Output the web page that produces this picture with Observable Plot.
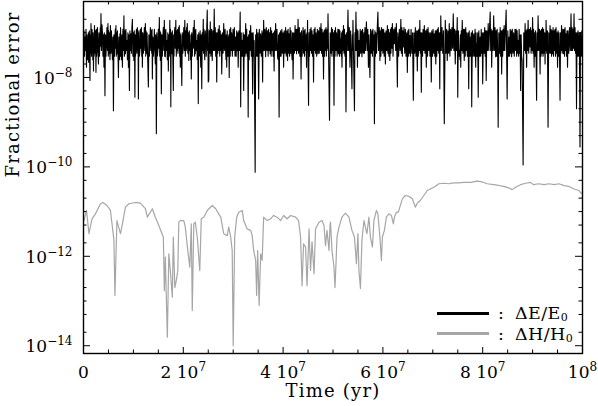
<!DOCTYPE html>
<html><head><meta charset="utf-8">
<script src="https://cdn.jsdelivr.net/npm/d3@7"></script>
<script src="https://cdn.jsdelivr.net/npm/@observablehq/plot@0.6"></script>
<style>
body{margin:0;background:#fff;}
#wrap{position:relative;width:598px;height:406px;font-family:"DejaVu Serif",serif;color:#000;}
#wrap svg{display:block;}
.sw{position:absolute;width:52px;height:3px;}
.lt{position:absolute;font-size:17.5px;line-height:16px;white-space:nowrap;letter-spacing:0.4px;}
.lt sub{font-size:11px;line-height:10px;vertical-align:baseline;position:relative;top:2px;}
</style></head><body><div id="wrap"></div>
<script>
// time in Myr, fractional energy error
const energyError = [
[0,5.7e-8],[0.1,1.1e-7],[0.2,3e-8],[0.3,8e-8],[0.4,4e-8],[0.5,1.2e-7],[0.6,1.7e-8],[0.7,9e-8],[0.8,2.5e-8],[0.9,4.8e-8],[0.97,1e-7],[1.03,2.2e-8],[1.1,2.9e-8],[1.17,1.1e-7],[1.23,3e-8],[1.3,8.6e-9],[1.37,9e-8],[1.43,3.5e-8],[1.5,1.6e-7],[1.6,3e-8],[1.7,1.2e-7],[1.8,6.7e-8],[1.87,2.5e-8],[1.93,1e-7],[2.0,1.4e-8],[2.07,8e-8],[2.13,3e-8],[2.2,1.45e-7],[2.3,3.5e-8],[2.4,1.1e-7],[2.5,1.3e-8],[2.57,1.2e-7],[2.63,3e-8],[2.7,4e-8],[2.8,1.3e-7],[2.9,4e-8],[3.0,2e-8],[3.1,1e-7],[3.2,3e-8],[3.3,6.7e-8],[3.37,1.3e-7],[3.43,5e-8],[3.5,2.7e-7],[3.6,4e-8],[3.7,1.5e-7],[3.8,1e-7],[3.9,3e-8],[4.0,9e-8],[4.1,1.7e-8],[4.17,1e-7],[4.23,4e-8],[4.3,3.9e-9],[4.4,9e-8],[4.5,3e-8],[4.6,6.7e-8],[4.7,1.3e-7],[4.8,4e-8],[4.9,1.6e-7],[4.97,3e-8],[5.03,1.1e-7],[5.1,3.4e-8],[5.2,1e-7],[5.3,2.5e-8],[5.4,1.45e-7],[5.5,3.5e-8],[5.6,1.1e-7],[5.7,4.8e-8],[5.8,2.5e-8],[5.9,8e-8],[6.0,1.8e-9],[6.1,9e-8],[6.2,3e-8],[6.3,8e-8],[6.37,1.2e-7],[6.43,4.5e-8],[6.5,1.45e-7],[6.57,3e-8],[6.63,1e-7],[6.7,3.4e-8],[6.8,1.1e-7],[6.9,4e-8],[7.0,1e-8],[7.1,8e-8],[7.2,2.5e-8],[7.3,9.5e-8],[7.37,3e-8],[7.43,1.3e-7],[7.5,4.8e-8],[7.6,2.5e-8],[7.7,9e-8],[7.8,1.7e-8],[7.9,1.2e-7],[8.0,4e-8],[8.1,2.4e-7],[8.2,3e-8],[8.3,1.1e-7],[8.4,3.4e-8],[8.5,1.2e-7],[8.6,4e-8],[8.7,6.7e-8],[8.8,2.5e-8],[8.9,1e-7],[9.0,1.7e-8],[9.07,9e-8],[9.13,3e-8],[9.2,5.1e-9],[9.3,1.1e-7],[9.4,4e-8],[9.5,9.5e-8],[9.6,3.5e-8],[9.7,1.3e-7],[9.8,2e-7],[9.9,3e-8],[10.0,1e-7],[10.1,2.4e-8],[10.17,1.1e-7],[10.23,4e-8],[10.3,3.6e-9],[10.37,9e-8],[10.43,3e-8],[10.5,5.7e-8],[10.6,1.2e-7],[10.7,3.5e-8],[10.8,1.3e-7],[10.87,4e-8],[10.93,1e-7],[11.0,3.3e-9],[11.1,1.1e-7],[11.2,3e-8],[11.3,4e-8],[11.4,1.2e-7],[11.5,4.5e-8],[11.6,1.3e-7],[11.67,3e-8],[11.73,1e-7],[11.8,1.7e-8],[11.9,1e-7],[12.0,3.5e-8],[12.1,6.7e-8],[12.2,1.3e-7],[12.3,4e-8],[12.4,1.6e-7],[12.47,3e-8],[12.53,1.1e-7],[12.6,3.4e-8],[12.73,1e-7],[12.87,2.5e-8],[13.0,6.1e-9],[13.1,9e-8],[13.2,3e-8],[13.3,6.7e-8],[13.4,1.3e-7],[13.5,4e-8],[13.6,1.1e-7],[13.67,3.5e-8],[13.73,1.2e-7],[13.8,9.3e-9],[13.9,8e-8],[14.0,3e-8],[14.1,4.8e-8],[14.2,1.2e-7],[14.3,4e-8],[14.4,2e-8],[14.47,9e-8],[14.53,3e-8],[14.6,5.5e-10],[14.7,1e-7],[14.8,3e-8],[14.9,4e-8],[15.0,1.2e-7],[15.1,4.5e-8],[15.2,2.2e-7],[15.27,3e-8],[15.33,1.1e-7],[15.4,2.4e-8],[15.47,1e-7],[15.53,3.5e-8],[15.6,4.3e-9],[15.7,9e-8],[15.8,3e-8],[15.9,8e-8],[16.0,1.3e-7],[16.1,4e-8],[16.2,1.9e-7],[16.27,3e-8],[16.33,1.1e-7],[16.4,2.9e-8],[16.5,1.2e-7],[16.6,4e-8],[16.7,6.7e-8],[16.8,2.5e-8],[16.9,1e-7],[17.0,1.4e-8],[17.1,9e-8],[17.2,3e-8],[17.3,1.9e-7],[17.37,3.5e-8],[17.43,1.2e-7],[17.5,2.2e-9],[17.57,1e-7],[17.63,4e-8],[17.7,3.4e-8],[17.8,1.1e-7],[17.9,3e-8],[18.0,5.1e-9],[18.07,9e-8],[18.13,3e-8],[18.2,8e-8],[18.3,1.3e-7],[18.4,4.5e-8],[18.5,1.9e-7],[18.6,3e-8],[18.7,1.1e-7],[18.8,4e-8],[18.87,1.2e-7],[18.93,3.5e-8],[19.0,6.7e-8],[19.07,1.3e-7],[19.13,4.5e-8],[19.2,1.45e-7],[19.27,3e-8],[19.33,1e-7],[19.4,1.7e-8],[19.5,9e-8],[19.6,3e-8],[19.7,6.6e-9],[19.8,1e-7],[19.9,3.5e-8],[20.0,6.7e-8],[20.1,1.3e-7],[20.2,4e-8],[20.3,1.9e-7],[20.4,3e-8],[20.5,1.1e-7],[20.6,4e-8],[20.67,1.3e-7],[20.73,4.5e-8],[20.8,1.6e-7],[20.9,3.5e-8],[21.0,1e-7],[21.1,2.4e-8],[21.2,1.1e-7],[21.3,4e-8],[21.4,5.7e-8],[21.47,2.5e-8],[21.53,9e-8],[21.6,9.3e-9],[21.7,1e-7],[21.8,3e-8],[21.9,6.7e-8],[22.0,1.3e-7],[22.1,4.5e-8],[22.2,1.9e-7],[22.27,3e-8],[22.33,1.1e-7],[22.4,3.4e-8],[22.5,1.2e-7],[22.6,4e-8],[22.7,6.7e-8],[22.8,2.5e-8],[22.9,9e-8],[23.0,2.6e-9],[23.1,1e-7],[23.2,3e-8],[23.3,4e-8],[23.37,1.1e-7],[23.43,3.5e-8],[23.5,1.7e-8],[23.57,9e-8],[23.63,3e-8],[23.7,5.6e-9],[23.8,1e-7],[23.9,4e-8],[24.0,2e-7],[24.07,3.5e-8],[24.13,1.2e-7],[24.2,4.8e-8],[24.3,2.5e-8],[24.4,1.1e-7],[24.5,8e-8],[24.6,3e-8],[24.7,1.3e-7],[24.8,3.2e-7],[24.87,4e-8],[24.93,1.2e-7],[25.0,7.9e-9],
[25.1,8.6e-9],[25.2,1.1e-7],[25.3,3.5e-8],[25.4,1.75e-7],[25.53,3e-8],[25.67,1.2e-7],[25.8,2.4e-8],[25.93,1.1e-7],[26.07,4e-8],[26.2,3.4e-7],[26.3,4e-8],[26.4,1.3e-7],[26.5,3e-8],[26.6,1e-7],[26.7,7.9e-9],[26.8,1e-7],[26.9,3.5e-8],[27.0,1.2e-7],[27.1,4e-8],[27.2,1.45e-7],[27.3,3e-8],[27.4,1.1e-7],[27.5,4e-8],[27.6,9e-8],[27.7,1.2e-8],[27.83,1e-7],[27.97,3.5e-8],[28.1,1.6e-7],[28.23,4e-8],[28.37,1.2e-7],[28.5,3.4e-8],[28.57,2.5e-8],[28.63,9e-8],[28.7,1.7e-8],[28.8,1.1e-7],[28.9,3e-8],[29.0,8e-8],[29.07,3e-8],[29.13,9e-8],[29.2,1e-8],[29.3,1.2e-7],[29.4,3e-8],[29.5,1.3e-7],[29.6,4e-8],[29.7,1e-7],[29.83,3e-8],[29.97,1.2e-7],[30.1,4e-8],[30.23,1.3e-7],[30.37,3e-8],[30.5,8e-8],[30.6,3e-8],[30.7,1.1e-7],[30.8,4e-8],[30.9,1e-7],[31.0,1.7e-8],[31.13,1.1e-7],[31.27,4e-8],[31.4,2.9e-7],[31.5,2.2e-9],[31.6,1e-7],[31.7,3e-8],[31.8,6.7e-8],[31.9,3e-8],[32.0,1e-7],[32.1,5.1e-9],[32.23,9e-8],[32.37,3e-8],[32.5,1.6e-7],[32.6,3.5e-8],[32.7,1.2e-7],[32.8,3e-8],[32.9,8e-8],[33.0,1.3e-9],[33.1,9e-8],[33.2,2.5e-8],[33.3,1.1e-7],[33.4,4e-8],[33.5,1.45e-7],[33.63,3e-8],[33.77,1e-7],[33.9,4.3e-9],[34.0,1e-7],[34.1,3e-8],[34.2,6.7e-8],[34.4,7.6e-11],[34.5,9e-8],[34.6,3e-8],[34.7,1.2e-7],[34.83,3e-8],[34.97,1e-7],[35.1,3.3e-9],[35.23,1.2e-7],[35.37,3.5e-8],[35.5,9.5e-8],[35.63,3e-8],[35.77,1.1e-7],[35.9,7.9e-9],[35.97,1e-7],[36.03,4e-8],[36.1,1.9e-7],[36.23,4e-8],[36.37,1.2e-7],[36.5,2.9e-8],[36.63,1.3e-7],[36.77,4e-8],[36.9,1.1e-7],[37.0,3e-8],[37.1,1.2e-7],[37.2,4e-8],[37.3,1e-7],[37.4,3.4e-8],[37.5,1.3e-7],[37.6,3e-8],[37.7,1.1e-7],[37.8,4e-8],[37.9,9.5e-8],[38.0,3e-8],[38.1,1e-7],[38.2,1.4e-8],[38.3,1.1e-7],[38.4,4e-8],[38.5,1.6e-7],[38.63,4e-8],[38.77,1.2e-7],[38.9,2.9e-8],[39.0,2.5e-8],[39.1,9e-8],[39.2,1.3e-9],[39.3,1e-7],[39.4,3e-8],[39.5,1.1e-7],[39.6,3e-8],[39.75,1.2e-7],[39.85,3.5e-8],[40.0,1e-7],[40.1,1.7e-8],[40.23,1.1e-7],[40.37,3.5e-8],[40.5,1.3e-7],[40.63,3e-8],[40.77,1.1e-7],[40.9,2.4e-8],[41.0,1.2e-7],[41.1,3.5e-8],[41.2,9.5e-8],[41.3,3e-8],[41.4,1.3e-7],[41.5,3.5e-8],[41.6,1.1e-7],[41.7,4e-8],[41.8,2.5e-8],[41.9,1e-7],[42.0,9.3e-9],[42.13,1e-7],[42.27,3.5e-8],[42.4,1.45e-7],[42.5,4e-8],[42.6,1.2e-7],[42.7,3.4e-8],[42.8,1.2e-7],[42.9,4e-8],[43.0,2e-7],[43.1,3.5e-8],[43.25,1.3e-7],[43.35,3e-8],[43.5,1e-7],[43.6,9.3e-9],[43.7,1.1e-7],[43.8,3e-8],[43.9,5.7e-8],[44.0,1.3e-7],[44.1,3.5e-8],[44.2,1.1e-7],[44.3,3e-8],[44.4,1.2e-7],[44.5,4e-8],[44.6,9e-8],[44.7,1.7e-8],[44.77,1e-7],[44.83,4e-8],[44.9,1.9e-7],[45.1,2.4e-9],[45.2,1e-7],[45.3,3e-8],[45.4,1.2e-7],[45.5,4e-8],[45.6,1.3e-7],[45.7,3.5e-8],[45.8,1.1e-7],[45.9,3e-8],[46.0,9e-8],[46.1,7.9e-9],[46.2,1.2e-7],[46.3,4e-8],[46.4,1.3e-7],[46.5,3.5e-8],[46.6,1e-7],[46.73,3e-8],[46.87,1.2e-7],[47.0,3.4e-8],[47.1,1.1e-7],[47.25,3.5e-8],[47.35,1.3e-7],[47.5,4e-8],[47.6,1.6e-7],[47.7,3.5e-8],[47.8,1.2e-7],[47.9,3e-8],[48.0,1e-7],[48.1,9.3e-9],[48.2,1.1e-7],[48.3,3e-8],[48.4,1.2e-7],[48.5,4e-8],[48.6,1.3e-7],[48.67,3e-8],[48.73,1.1e-7],[48.8,4e-8],[48.87,1.2e-7],[48.93,4.5e-8],[49.0,2.65e-7],[49.3,1.1e-9],[49.43,1e-7],[49.57,3.5e-8],[49.7,1.3e-7],[49.8,3e-8],[49.9,1.2e-7],[50.0,4e-8],[50.1,1e-7],
[50.2,2.4e-9],[50.3,1.1e-7],[50.4,3e-8],[50.5,1.3e-7],[50.6,4e-8],[50.7,1e-7],[50.83,3e-8],[50.97,1.2e-7],[51.1,3.4e-8],[51.2,1.2e-7],[51.3,3e-8],[51.4,1.1e-7],[51.5,3.5e-8],[51.6,7.3e-8],[51.67,3e-8],[51.73,1e-7],[51.8,1.7e-8],[51.9,1.1e-7],[52.0,4e-8],[52.1,1.45e-7],[52.2,3.5e-8],[52.3,1.2e-7],[52.4,3e-8],[52.5,9e-8],[52.6,1.7e-9],[52.73,1e-7],[52.87,4e-8],[53.0,3.2e-7],[53.13,4e-8],[53.27,1.3e-7],[53.4,1.7e-8],[53.53,1.1e-7],[53.67,3e-8],[53.8,5.6e-9],[53.87,9e-8],[53.93,4e-8],[54.0,1.9e-7],[54.3,1.8e-9],[54.4,1e-7],[54.5,4e-8],[54.6,2.9e-7],[54.7,4e-8],[54.8,1.2e-7],[54.9,1.7e-8],[55.0,1.1e-7],[55.1,3e-8],[55.2,6.7e-8],[55.3,3e-8],[55.45,1.2e-7],[55.55,3.5e-8],[55.7,1.1e-7],[55.8,2.9e-8],[55.93,1.2e-7],[56.07,3.5e-8],[56.2,1e-7],[56.3,3.5e-8],[56.4,1.3e-7],[56.5,4e-8],[56.6,9e-8],[56.7,1.75e-7],[56.83,4e-8],[56.97,1.2e-7],[57.1,1.7e-8],[57.2,9e-8],[57.3,3e-8],[57.4,1e-8],[57.53,1.2e-7],[57.67,3.5e-8],[57.8,1.1e-7],[57.9,3e-8],[58.0,1.2e-7],[58.1,4e-8],[58.2,9e-8],[58.3,9.2e-10],[58.4,1.1e-7],[58.5,3e-8],[58.6,1e-7],[58.73,3.5e-8],[58.87,1.3e-7],[59.0,2.9e-7],[59.13,4e-8],[59.27,1.3e-7],[59.4,2.4e-8],[59.5,1.1e-7],[59.6,3e-8],[59.7,1.3e-7],[59.8,4e-8],[59.9,1.2e-7],[60.0,3.5e-8],[60.15,1.2e-7],[60.25,3e-8],[60.4,1e-7],[60.5,2e-8],[60.63,1.1e-7],[60.77,4e-8],[60.9,1.45e-7],[61.0,3.5e-8],[61.1,1.2e-7],[61.2,3e-8],[61.3,1e-7],[61.4,2.4e-8],[61.5,1.2e-7],[61.6,3.5e-8],[61.7,1.3e-7],[61.8,4.5e-8],[61.9,1.6e-7],[62.03,3e-8],[62.17,1.2e-7],[62.3,5.7e-8],[62.43,1.3e-7],[62.57,4e-8],[62.7,1.6e-7],[62.9,6.1e-9],[63.0,1e-7],[63.15,3e-8],[63.3,1.2e-7],[63.45,4e-8],[63.6,2e-7],[63.7,3.5e-8],[63.8,1.3e-7],[63.9,3e-8],[64.0,1.1e-7],[64.1,4.8e-8],[64.23,1.3e-7],[64.37,3.5e-8],[64.5,1.2e-7],[64.63,3e-8],[64.77,1e-7],[64.9,1.3e-8],[65.0,1.1e-7],[65.1,3e-8],[65.2,1.2e-7],[65.3,3.5e-8],[65.4,8.7e-8],[65.5,3e-8],[65.65,1.2e-7],[65.8,3.5e-8],[65.95,1e-7],[66.1,3.1e-9],[66.23,1e-7],[66.37,3.5e-8],[66.5,1.3e-7],[66.63,3e-8],[66.77,1.1e-7],[66.9,1.4e-8],[67.0,1.1e-7],[67.1,3e-8],[67.2,1.2e-7],[67.3,4e-8],[67.4,1.9e-7],[67.5,3.5e-8],[67.6,1e-7],[67.7,4.7e-9],[67.8,1e-7],[67.95,3e-8],[68.05,1.2e-7],[68.2,4e-8],[68.3,1.45e-7],[68.43,3.5e-8],[68.57,1.1e-7],[68.7,1.7e-8],[68.8,1.2e-7],[68.95,3e-8],[69.05,1.3e-7],[69.2,4e-8],[69.3,1e-7],[69.43,3e-8],[69.57,1e-7],[69.7,7.9e-9],[69.8,1.1e-7],[69.95,3e-8],[70.05,1.2e-7],[70.2,3.5e-8],[70.3,9.5e-8],[70.4,3e-8],[70.5,1.1e-7],[70.6,2e-8],[70.7,1.1e-7],[70.8,3e-8],[70.9,1.2e-7],[71.0,4e-8],[71.1,1.3e-7],[71.2,3.5e-8],[71.3,1e-7],[71.4,5.6e-9],[71.47,1e-7],[71.53,4e-8],[71.6,2.4e-7],[71.7,4e-8],[71.85,1.3e-7],[72.0,3.5e-8],[72.15,1.1e-7],[72.3,9.2e-10],[72.5,1.9e-7],[72.63,3.5e-8],[72.77,1.2e-7],[72.9,2.4e-8],[73.03,1.1e-7],[73.17,3.5e-8],[73.3,1.6e-7],[73.43,3e-8],[73.57,1.2e-7],[73.7,4e-8],[73.83,1.3e-7],[73.97,4.5e-8],[74.1,2.65e-7],[74.23,4e-8],[74.37,1.2e-7],[74.5,2e-8],[74.63,1.1e-7],[74.77,4e-8],[74.9,2.2e-7],
[75.0,3.6e-9],[75.13,1.1e-7],[75.27,3e-8],[75.4,4e-8],[75.47,2.5e-8],[75.53,9e-8],[75.6,1.7e-8],[75.7,1.1e-7],[75.8,4e-8],[75.9,1.9e-7],[76.03,3.5e-8],[76.17,1.2e-7],[76.3,2.4e-8],[76.4,1.2e-7],[76.5,3e-8],[76.6,1.3e-7],[76.7,4e-8],[76.8,1e-7],[76.93,3e-8],[77.07,1e-7],[77.2,5.6e-9],[77.3,1.1e-7],[77.4,3e-8],[77.5,8e-8],[77.6,3e-8],[77.7,1e-7],[77.8,2.2e-9],[77.93,1.1e-7],[78.07,3e-8],[78.2,9.5e-8],[78.33,3e-8],[78.47,1.2e-7],[78.6,1.7e-8],[78.67,1e-7],[78.73,3e-8],[78.8,5.7e-8],[78.9,3e-8],[79.0,1e-7],[79.1,3.6e-9],[79.23,1.1e-7],[79.37,3e-8],[79.5,8e-8],[79.6,3e-8],[79.7,1.2e-7],[79.8,3.5e-8],[79.9,1e-7],[80.0,7.2e-9],[80.13,1e-7],[80.27,3.5e-8],[80.4,1.3e-7],[80.5,3e-8],[80.6,1.1e-7],[80.7,8.6e-9],[80.83,1.1e-7],[80.97,4e-8],[81.1,1.6e-7],[81.23,4e-8],[81.37,1.3e-7],[81.5,2.9e-7],[81.6,4e-8],[81.7,1.2e-7],[81.8,1.7e-8],[81.93,1.1e-7],[82.07,4e-8],[82.2,2.4e-7],[82.33,4e-8],[82.47,1.3e-7],[82.6,2.9e-8],[82.7,1.1e-7],[82.8,3e-8],[82.9,1.2e-7],[83.0,3.5e-8],[83.1,7.7e-10],[83.23,1e-7],[83.37,3.5e-8],[83.5,1.3e-7],[83.6,3e-8],[83.7,1.1e-7],[83.8,1.2e-8],[83.9,1.1e-7],[84.0,3e-8],[84.1,1.2e-7],[84.2,4e-8],[84.3,1.45e-7],[84.43,4e-8],[84.57,1.3e-7],[84.7,3.2e-7],[84.9,3.3e-9],[85.03,1.1e-7],[85.17,3e-8],[85.3,8e-8],[85.4,3e-8],[85.5,1.2e-7],[85.6,3.5e-8],[85.7,1.1e-7],[85.8,2.9e-8],[85.93,1.2e-7],[86.07,3.5e-8],[86.2,1e-7],[86.33,3e-8],[86.47,1.2e-7],[86.6,4e-8],[86.7,1.2e-7],[86.8,3e-8],[86.9,1.1e-7],[87.0,3.5e-8],[87.1,6.7e-8],[87.2,3e-8],[87.3,1.2e-7],[87.4,3.5e-8],[87.5,9e-8],[87.6,5.1e-9],[87.7,9e-8],[87.8,3e-8],[87.9,2.4e-8],[88.1,1.1e-10],[88.23,1e-7],[88.37,4e-8],[88.5,1.6e-7],[88.6,3.5e-8],[88.7,1.1e-7],[88.8,1.7e-8],[88.9,1.2e-7],[89.0,4e-8],[89.1,1.9e-7],[89.23,3.5e-8],[89.37,1.2e-7],[89.5,4.8e-8],[89.6,1.3e-7],[89.7,3.5e-8],[89.8,1.1e-7],[89.9,4e-8],[90.0,2.2e-7],[90.1,3.5e-8],[90.2,1.2e-7],[90.3,1.7e-8],[90.4,1e-7],[90.5,3e-8],[90.6,1.1e-7],[90.7,3e-8],[90.8,3.1e-9],[90.9,1e-7],[91.0,4e-8],[91.1,2.4e-7],[91.23,4e-8],[91.37,1.2e-7],[91.5,1.2e-8],[91.6,1.1e-7],[91.7,3e-8],[91.8,1.2e-7],[91.9,3.5e-8],[92.0,1.3e-7],[92.1,3e-8],[92.2,1.2e-7],[92.3,3.5e-8],[92.4,1e-7],[92.5,2e-8],[92.57,1e-7],[92.63,4e-8],[92.7,1.9e-7],[92.83,3.5e-8],[92.97,1.1e-7],[93.1,7.7e-10],[93.23,1e-7],[93.37,3.5e-8],[93.5,1.45e-7],[93.6,3.5e-8],[93.7,1.2e-7],[93.8,3e-8],[93.9,1.1e-7],[94.0,3.4e-8],[94.1,1.3e-7],[94.2,3e-8],[94.3,1.1e-7],[94.4,4e-8],[94.5,1.2e-7],[94.6,3e-8],[94.7,1.3e-7],[94.8,3.5e-8],[94.9,1e-7],[95.0,1.7e-8],[95.1,1.1e-7],[95.2,3e-8],[95.3,1e-7],[95.4,3e-8],[95.5,3.1e-9],[95.6,1e-7],[95.7,4e-8],[95.8,1.45e-7],[95.93,3.5e-8],[96.07,1.2e-7],[96.2,3.4e-8],[96.3,1.2e-7],[96.4,3e-8],[96.5,1.3e-7],[96.6,4e-8],[96.7,9.5e-8],[96.8,3e-8],[96.9,1.1e-7],[97.0,1.7e-8],[97.1,1.1e-7],[97.25,3.5e-8],[97.4,1.3e-7],[97.55,4e-8],[97.7,2.65e-7],[97.8,4e-8],[97.9,1.3e-7],[98.0,4e-8],[98.1,1.2e-7],[98.2,4.5e-8],[98.3,2.65e-7],[98.4,4e-8],[98.5,1.3e-7],[98.6,3.5e-8],[98.7,1e-7],[98.8,2e-9],[98.9,1e-7],[99.0,3e-8],[99.1,1.1e-7],[99.23,3e-8],[99.37,1e-7],[99.5,2.8e-10],[99.6,1e-7],[99.7,3e-8],[99.8,4.8e-8],[99.87,1.1e-7],[99.93,3e-8],[100,5.7e-8]];

// time in Myr, fractional angular momentum error
const angMomError = [[0.1,6.3e-12],[0.6,1.06e-11],[1.1,3.2e-12],[1.7,6.9e-12],[2.4,8.9e-12],[3.4,1.5e-11],[3.9,1.6e-11],[4.7,1.37e-11],[5.4,1.06e-11],[6.1,2.3e-12],[6.3,1.33e-13],[6.7,6.3e-12],[7.4,3.2e-12],[7.8,5.3e-12],[8.4,1.26e-11],[9.1,1.5e-11],[10.4,1.6e-11],[11.4,1.54e-11],[12.4,1.16e-11],[12.8,7.5e-12],[13.4,9.7e-12],[13.8,1.16e-11],[14.4,7.5e-12],[15.1,4.9e-12],[15.6,3.5e-12],[16.0,2.7e-12],[16.2,1.7e-13],[16.4,9.6e-13],[16.8,1.55e-14],[17.1,1.14e-12],[17.4,4.8e-13],[17.8,1.22e-13],[18.0,2.7e-12],[18.3,2.0e-13],[18.6,2.9e-13],[18.9,4.8e-13],[19.1,5.8e-12],[19.4,6.3e-12],[20.1,6.3e-12],[20.4,4.5e-12],[20.9,1.35e-12],[21.3,5.7e-13],[21.6,5.3e-12],[21.8,6.1e-14],[22.1,5.3e-12],[22.4,5.8e-12],[22.8,2.7e-12],[23.3,4.8e-13],[23.6,6.9e-12],[24.1,7.5e-12],[24.8,1.06e-11],[25.8,1.37e-11],[26.5,1.16e-11],[27.5,7.5e-12],[28.1,3.2e-12],[28.8,2.9e-12],[29.1,4.5e-12],[29.5,2.7e-12],[29.8,1.35e-12],[30.0,1.0e-14],[30.3,2.7e-12],[30.7,7.5e-12],[31.1,9.7e-12],[31.8,1.06e-11],[32.1,6.3e-12],[32.8,4.1e-12],[33.5,3.8e-12],[33.8,2.9e-12],[34.1,1.35e-12],[34.5,8.1e-13],[34.7,1.33e-13],[34.9,1.35e-12],[35.2,7.9e-14],[35.5,1.14e-12],[35.8,8.1e-13],[36.1,7.5e-12],[36.8,6.3e-12],[37.5,6.9e-12],[38.1,8.2e-12],[38.8,7.5e-12],[39.5,6.3e-12],[40.1,8.2e-12],[40.8,6.9e-12],[41.5,8.2e-12],[42.5,7.5e-12],[43.1,6.3e-12],[43.5,2.7e-12],[43.8,2.2e-13],[44.1,1.9e-12],[44.5,1.6e-12],[44.8,2.2e-13],[45.2,4.1e-12],[45.5,4.8e-13],[45.8,2.1e-12],[46.2,4.1e-13],[46.5,4.1e-12],[47.2,5.8e-12],[47.8,6.3e-12],[48.2,4.9e-12],[48.5,1.75e-12],[48.8,3.8e-12],[49.2,1.35e-12],[49.4,4.9e-12],
[49.5,5.8e-12],[49.8,1.35e-12],[50.2,5.7e-13],[50.4,2.0e-13],[50.6,6.8e-13],[50.8,2.7e-12],[51.2,4.5e-12],[51.8,7.5e-12],[52.5,9.2e-12],[53.2,7.5e-12],[53.8,3.8e-12],[54.3,2.7e-12],[54.7,6.8e-13],[55.0,3.2e-12],[55.2,4.8e-13],[55.5,1.9e-13],[55.8,2.3e-12],[56.2,6.3e-12],[56.5,4.5e-12],[56.8,3.2e-12],[57.2,7.5e-12],[57.5,2.7e-12],[57.9,1.6e-12],[58.2,6.3e-12],[58.7,1.06e-11],[59.0,8.9e-12],[59.4,2.7e-12],[59.7,8.1e-13],[59.9,2.7e-12],[60.3,3.8e-12],[60.7,7.5e-12],[61.2,8.9e-12],[61.7,8.2e-12],[62.1,5.3e-12],[62.3,7.5e-12],[62.7,9.7e-12],[63.1,9.7e-12],[63.4,1.26e-11],[63.9,1.93e-11],[64.5,2.29e-11],[65.2,2.2e-11],[65.9,1.93e-11],[66.5,1.26e-11],[67.0,1.6e-11],[67.5,1.77e-11],[68.2,2.29e-11],[68.9,2.96e-11],[69.5,3.2e-11],[70.5,3.65e-11],[71.2,4.2e-11],[72.2,4.3e-11],[73.2,4.2e-11],[74.2,4.4e-11],[75.2,4.4e-11],[76.2,4.5e-11],[77.6,4.5e-11],[78.9,4.8e-11],[79.9,4.6e-11],[80.9,4.2e-11],[82.2,4.0e-11],[83.2,3.84e-11],[84.2,3.65e-11],[85.2,3.4e-11],[85.9,3.1e-11],[86.6,3.5e-11],[87.6,4.0e-11],[88.6,4.3e-11],[89.6,4.5e-11],[90.2,4.0e-11],[91.2,4.2e-11],[92.3,4.0e-11],[93.3,4.2e-11],[94.3,4.0e-11],[95.3,4.2e-11],[96.3,3.8e-11],[97.3,3.65e-11],[98.3,3.2e-11],[99.3,2.96e-11],[99.7,2.6e-11],[100,2.6e-11]];

const seriesNames = ["ΔE/E_0", "ΔH/H_0"];
const seriesColors = ["#000000", "#a6a6a6"];
const xMajorTicks = [0, 2e7, 4e7, 6e7, 8e7, 1e8];
const xTickLabels = ["0", "2 10^7", "4 10^7", "6 10^7", "8 10^7", "10^8"];
const xMinorTicks = [5e6,1e7,1.5e7,2.5e7,3e7,3.5e7,4.5e7,5e7,5.5e7,6.5e7,7e7,7.5e7,8.5e7,9e7,9.5e7];
const yMajorTicks = [1e-14, 1e-12, 1e-10, 1e-8];
const yTickLabels = ["10^\u221214", "10^\u221212", "10^\u221210", "10^\u22128"];
const yMinorTicks = [];
for (let e = -15; e <= -7; e++) for (const m of [1, 2, 5]) {
  const v = m * Math.pow(10, e);
  if (v > 6.7e-15 && v < 5e-7 && !yMajorTicks.some(t => Math.abs(t - v) / v < 1e-6)) yMinorTicks.push(v);
}
const xLabel = "Time (yr)";
const yLabel = "Fractional error";

const W = 598, H = 406, mL = 83, mR = 16, mT = 1, mB = 53;
const pw = W - mL - mR, ph = H - mT - mB;
const E = energyError.map(([t, v]) => ({t: t * 1e6, v}));
const Hm = angMomError.map(([t, v]) => ({t: t * 1e6, v}));

const chart = Plot.plot({
  width: W, height: H,
  marginLeft: mL, marginRight: mR, marginTop: mT, marginBottom: mB,
  x: {domain: [0, 1e8], axis: null},
  y: {type: "log", domain: [6.7e-15, 5.0e-7], axis: null},
  style: {fontFamily: "DejaVu Serif, serif", fontSize: "17px", background: "white", color: "black"},
  marks: [
    Plot.line(Hm, {x: "t", y: "v", stroke: seriesColors[1], strokeWidth: 1.2}),
    Plot.line(E, {x: "t", y: "v", stroke: seriesColors[0], strokeWidth: 1.1}),
    Plot.frame({stroke: "black", strokeWidth: 1.4}),
    Plot.tickY(yMajorTicks, {y: d => d, insetRight: pw - 7, stroke: "black"}),
    Plot.tickY(yMinorTicks, {y: d => d, insetRight: pw - 3.5, stroke: "black"}),
    Plot.tickY(yMajorTicks, {y: d => d, insetLeft: pw - 7, stroke: "black"}),
    Plot.tickY(yMinorTicks, {y: d => d, insetLeft: pw - 3.5, stroke: "black"}),
    Plot.tickX(xMajorTicks, {x: d => d, insetTop: ph - 6, stroke: "black"}),
    Plot.tickX(xMinorTicks, {x: d => d, insetTop: ph - 3.5, stroke: "black"}),
    Plot.tickX(xMajorTicks, {x: d => d, insetBottom: ph - 6, stroke: "black"}),
    Plot.tickX(xMinorTicks, {x: d => d, insetBottom: ph - 3.5, stroke: "black"}),
    Plot.text(yMajorTicks, {y: d => d, text: (d, i) => yTickLabels[i], frameAnchor: "left", textAnchor: "end", dx: -11, dy: 1}),
    Plot.text(xMajorTicks, {x: d => d, text: (d, i) => xTickLabels[i], frameAnchor: "bottom", dy: 24}),
    Plot.text([yLabel], {frameAnchor: "left", dx: -70, rotate: -90, fontSize: 18}),
    Plot.text([xLabel], {frameAnchor: "bottom", dy: 43, fontSize: 18})
  ]
});

// superscripts and title letter spacing
chart.querySelectorAll("text").forEach(t => {
  const s = t.textContent;
  if (s === xLabel || s === yLabel) t.setAttribute("letter-spacing", "1.2");
  if (s.includes("^")) {
    const [base, exp] = s.split("^");
    t.textContent = base;
    const ts = document.createElementNS("http://www.w3.org/2000/svg", "tspan");
    ts.setAttribute("dy", "-7");
    ts.setAttribute("font-size", "12");
    ts.textContent = exp;
    t.appendChild(ts);
  }
});

const wrap = document.getElementById("wrap");
wrap.appendChild(chart);

// legend
seriesNames.forEach((name, i) => {
  const sw = document.createElement("div");
  sw.className = "sw";
  sw.style.left = "437px";
  sw.style.top = (311.5 + 20 * i) + "px";
  sw.style.background = seriesColors[i];
  wrap.appendChild(sw);
  const colon = document.createElement("div");
  colon.className = "lt";
  colon.style.left = "498px";
  colon.style.top = (305 + 21 * i) + "px";
  colon.textContent = ":";
  wrap.appendChild(colon);
  const lab = document.createElement("div");
  lab.className = "lt";
  lab.style.left = "515px";
  lab.style.top = (305 + 21 * i) + "px";
  const [a, b] = name.split("_");
  lab.append(a);
  const sub = document.createElement("sub");
  sub.textContent = b;
  lab.appendChild(sub);
  wrap.appendChild(lab);
});
</script>
</body></html>
